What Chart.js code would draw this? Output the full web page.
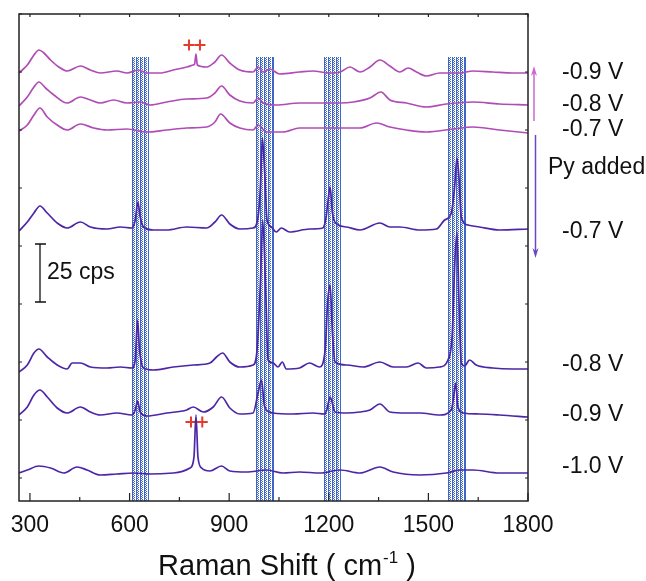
<!DOCTYPE html>
<html>
<head>
<meta charset="utf-8">
<script src="https://cdn.jsdelivr.net/npm/chart.js@4.4.1/dist/chart.umd.min.js"></script>
<style>
  html, body { margin: 0; padding: 0; background: #fff; }
  #wrap { width: 646px; height: 581px; }
</style>
</head>
<body>
<div id="wrap"><canvas id="raman" width="646" height="581"></canvas></div>
<script>
// Raman shift (cm-1) and offset intensity (a.u., 58 units = 25 cps)

// before Py, -0.9 V
const xA = [267,292,312,327,342,362,387,412,452,482,512,562,592,627,652,692,732,772,792,796,800,804,832,857,877,902,932,972,987,1002,1022,1052,1112,1152,1202,1234,1264,1294,1324,1354,1384,1414,1439,1464,1494,1534,1594,1634,1694,1754,1800];
const yA = [428,436,446,451,448,441,434,430,435,431,428,430,428,431,428,428,431,434,436,437,447,436,434,439,446,438,431,429,434,429,432,427,429,430,428,429,434,429,434,441,435,429,433,429,425,428,428,430,429,428,428];
// before Py, -0.8 V
const xB = [267,292,312,327,347,372,412,452,482,512,552,592,632,662,712,772,832,857,877,902,932,972,987,1002,1042,1112,1202,1234,1274,1324,1357,1384,1434,1494,1554,1634,1714,1800];
const yB = [395,404,414,419,413,406,398,404,401,398,401,398,399,396,399,402,403,408,415,406,400,398,403,398,396,398,398,398,399,403,409,401,398,394,397,399,397,396];
// before Py, -0.7 V
const xC = [267,292,312,330,352,382,412,452,492,532,592,652,712,772,832,857,874,902,932,972,987,1012,1062,1112,1202,1234,1294,1344,1384,1434,1494,1574,1634,1714,1800];
const yC = [370,376,386,393,384,376,371,377,373,371,372,369,371,373,374,379,387,378,373,371,376,369,369,373,373,373,373,378,374,371,369,372,374,371,368];
// Py added, -0.7 V
const xD = [267,292,312,330,352,382,412,452,482,532,572,607,617,625,632,642,672,712,772,832,857,877,902,932,972,987,994,1000,1007,1014,1027,1042,1057,1082,1142,1182,1192,1198,1204,1211,1224,1254,1294,1354,1384,1414,1474,1524,1549,1569,1579,1586,1592,1599,1619,1654,1714,1800];
const yD = [270,279,288,295,288,278,273,279,274,272,274,273,281,299,284,274,271,271,274,273,279,286,277,272,273,284,314,363,328,281,274,269,273,269,272,273,284,301,314,288,277,274,271,278,274,274,271,272,281,288,314,343,324,284,276,274,271,272];
// Py added, -0.8 V
const xE = [267,292,312,327,352,382,412,427,452,482,532,572,607,617,624,630,642,672,732,792,842,862,880,902,932,972,984,994,1001,1010,1017,1032,1047,1060,1072,1112,1142,1172,1189,1197,1204,1211,1219,1254,1304,1354,1394,1434,1469,1494,1534,1559,1572,1579,1586,1592,1599,1609,1624,1644,1694,1754,1800];
const yE = [129,136,148,152,144,136,132,138,138,134,133,134,133,141,181,151,133,131,134,136,138,144,148,139,134,136,151,218,281,211,141,138,134,139,132,133,138,134,151,201,216,168,139,136,134,139,134,134,138,133,134,141,168,234,269,201,138,135,141,136,133,132,132];
// Py added, -0.9 V
const xF = [267,292,312,330,352,382,412,452,482,512,562,607,617,624,632,652,712,772,792,822,852,877,902,932,972,987,997,1007,1032,1092,1152,1187,1194,1204,1219,1254,1294,1324,1354,1384,1434,1474,1534,1569,1576,1582,1589,1604,1654,1714,1800];
const yF = [86,94,106,111,104,93,88,94,89,86,88,86,91,100,89,85,88,91,94,89,94,104,93,87,88,108,121,94,88,87,88,87,91,104,89,88,89,91,97,89,88,88,86,91,104,118,94,88,87,86,84];
// Py added, -1.0 V
const xG = [267,292,327,362,402,442,472,512,562,612,662,732,782,794,800,806,817,842,877,902,952,1012,1062,1112,1174,1234,1294,1354,1394,1474,1554,1594,1634,1714,1800];
const yG = [28,31,35,33,28,34,31,26,27,28,27,28,33,44,86,44,33,30,35,30,29,31,28,29,28,31,28,34,29,26,28,31,31,28,28];

// "++" marks
const plusX = [779, 812, 785, 819];
const plusY = [456, 456, 79, 79];

// shaded Py bands
const bandLo = [606, 980, 1186, 1560];
const bandHi = [659, 1034, 1237, 1613];
const bandTop = 444;

const xTicks = [300,450,600,750,900,1050,1200,1350,1500,1650,1800];
const yTicks = [23,81,139,197,255,313,371,429,487];

const sideText = ['-0.9 V','-0.8 V','-0.7 V','Py added','-0.7 V','-0.8 V','-0.9 V','-1.0 V'];
const sideY = [428,396,371,333,269,136,86,34];
const barLow = 199, barHigh = 257; // 25 cps

const magenta = '#b04cb6';
const indigo = '#4c26a6';
const bandBlue = '#3f66c4';

function pts(xs, ys) { return xs.map((v, i) => ({x: v, y: ys[i]})); }

function trace(xs, ys, color) {
  return { data: pts(xs, ys), borderColor: color, borderWidth: 1.7, pointRadius: 0,
           cubicInterpolationMode: 'monotone', fill: false };
}

function makePattern(ctx) {
  const c = document.createElement('canvas');
  c.width = 4; c.height = 2;
  const p = c.getContext('2d');
  p.fillStyle = '#fff'; p.fillRect(0, 0, 4, 2);
  p.fillStyle = bandBlue;
  p.fillRect(0, 0, 1, 2);
  p.fillRect(1, 0, 1, 1);
  p.fillRect(2, 1, 1, 1);
  return ctx.createPattern(c, 'repeat');
}

const bandPlugin = {
  id: 'bands',
  beforeDatasetsDraw(chart) {
    const {ctx, chartArea: a, scales: {x, y}} = chart;
    ctx.save();
    ctx.beginPath(); ctx.rect(a.left, a.top, a.width, a.height); ctx.clip();
    const pat = makePattern(ctx);
    const t = y.getPixelForValue(bandTop), b = y.getPixelForValue(0);
    bandLo.forEach((lo, i) => {
      const l = Math.round(x.getPixelForValue(lo)), r = Math.round(x.getPixelForValue(bandHi[i]));
      ctx.fillStyle = pat;
      ctx.fillRect(l, t, r - l, b - t);
      ctx.strokeStyle = bandBlue; ctx.lineWidth = 1;
      ctx.beginPath();
      ctx.moveTo(l + 0.5, t); ctx.lineTo(l + 0.5, b);
      ctx.moveTo(r - 0.5, t); ctx.lineTo(r - 0.5, b);
      ctx.stroke();
    });
    ctx.restore();
  }
};

function arrow(ctx, x, y0, y1, color) {
  const dir = y1 < y0 ? -1 : 1;
  ctx.strokeStyle = color; ctx.fillStyle = color; ctx.lineWidth = 1.5;
  ctx.beginPath(); ctx.moveTo(x, y0); ctx.lineTo(x, y1 - dir * 6); ctx.stroke();
  ctx.beginPath();
  ctx.moveTo(x, y1); ctx.lineTo(x - 3, y1 - dir * 10); ctx.lineTo(x, y1 - dir * 7); ctx.lineTo(x + 3, y1 - dir * 10);
  ctx.closePath(); ctx.fill();
}

const framePlugin = {
  id: 'frame',
  afterDraw(chart) {
    const {ctx, chartArea: a, scales: {x, y}} = chart;
    ctx.save();
    ctx.strokeStyle = '#222'; ctx.lineWidth = 1.5;
    ctx.strokeRect(a.left, a.top, a.width, a.height);
    ctx.lineWidth = 1.2;
    ctx.beginPath();
    xTicks.forEach(v => {
      const px = x.getPixelForValue(v);
      const len = v % 300 === 0 ? 8 : 4;
      ctx.moveTo(px, a.bottom); ctx.lineTo(px, a.bottom - len);
      ctx.moveTo(px, a.top); ctx.lineTo(px, a.top + 3);
    });
    yTicks.forEach(v => {
      const py = y.getPixelForValue(v);
      ctx.moveTo(a.left, py); ctx.lineTo(a.left + 3, py);
      ctx.moveTo(a.right, py); ctx.lineTo(a.right - 3, py);
    });
    ctx.stroke();

    // 25 cps scale bar
    const bx = a.left + 21, bt = y.getPixelForValue(barHigh), bb = y.getPixelForValue(barLow);
    ctx.strokeStyle = '#111'; ctx.lineWidth = 1.3;
    ctx.beginPath();
    ctx.moveTo(bx, bt); ctx.lineTo(bx, bb);
    ctx.moveTo(bx - 5, bt); ctx.lineTo(bx + 6, bt);
    ctx.moveTo(bx - 5, bb); ctx.lineTo(bx + 6, bb);
    ctx.stroke();
    ctx.fillStyle = '#111';
    ctx.font = '23px "Liberation Sans", Arial, sans-serif';
    ctx.textBaseline = 'middle'; ctx.textAlign = 'left';
    ctx.fillText('25 cps', bx + 7, (bt + bb) / 2);

    // side labels
    sideText.forEach((s, i) => {
      const dx = s === 'Py added' ? 20 : 34;
      ctx.fillText(s, a.right + dx, y.getPixelForValue(sideY[i]));
    });

    // arrows
    arrow(ctx, a.right + 6, y.getPixelForValue(380), y.getPixelForValue(435), '#cc66cc');
    arrow(ctx, a.right + 7.5, y.getPixelForValue(366), y.getPixelForValue(243), '#6a48c0');

    // axis title with superscript
    ctx.fillStyle = '#111';
    const big = '29px "Liberation Sans", Arial, sans-serif';
    const small = '17px "Liberation Sans", Arial, sans-serif';
    const t1 = 'Raman Shift ( cm', t2 = '-1', t3 = ' )';
    ctx.font = big; const w1 = ctx.measureText(t1).width, w3 = ctx.measureText(t3).width;
    ctx.font = small; const w2 = ctx.measureText(t2).width;
    let tx = (a.left + a.right) / 2 + 13 - (w1 + w2 + w3) / 2;
    const ty = a.bottom + 74;
    ctx.textBaseline = 'alphabetic';
    ctx.font = big; ctx.fillText(t1, tx, ty); tx += w1;
    ctx.font = small; ctx.fillText(t2, tx + 1, ty - 12); tx += w2 + 1;
    ctx.font = big; ctx.fillText(t3, tx, ty);
    ctx.restore();
  }
};

Chart.defaults.font.family = '"Liberation Sans", Arial, sans-serif';

new Chart(document.getElementById('raman').getContext('2d'), {
  type: 'line',
  data: {
    datasets: [
      trace(xA, yA, magenta),
      trace(xB, yB, magenta),
      trace(xC, yC, magenta),
      trace(xD, yD, indigo),
      trace(xE, yE, indigo),
      trace(xF, yF, indigo),
      trace(xG, yG, indigo),
      {
        type: 'scatter',
        data: pts(plusX, plusY),
        showLine: false,
        pointStyle: 'cross',
        pointRadius: 5.5,
        borderColor: '#e43b2c',
        borderWidth: 2
      }
    ]
  },
  plugins: [bandPlugin, framePlugin],
  options: {
    responsive: false,
    animation: false,
    layout: { padding: { left: 19, right: 118, top: 14, bottom: 0 } },
    plugins: { legend: { display: false }, tooltip: { enabled: false } },
    scales: {
      x: {
        type: 'linear',
        min: 267,
        max: 1800,
        grid: { display: false },
        border: { display: false },
        afterBuildTicks: s => { s.ticks = xTicks.map(v => ({ value: v })); },
        afterFit: s => { s.height = 80; },
        ticks: {
          autoSkip: false,
          maxRotation: 0,
          padding: 3,
          color: '#111',
          font: { size: 23 },
          callback: v => (v % 300 === 0 ? String(v) : '')
        }
      },
      y: {
        type: 'linear',
        min: 0,
        max: 487,
        grid: { display: false },
        border: { display: false },
        ticks: { display: false },
        afterFit: s => { s.width = 0; }
      }
    }
  }
});
</script>
</body>
</html>
